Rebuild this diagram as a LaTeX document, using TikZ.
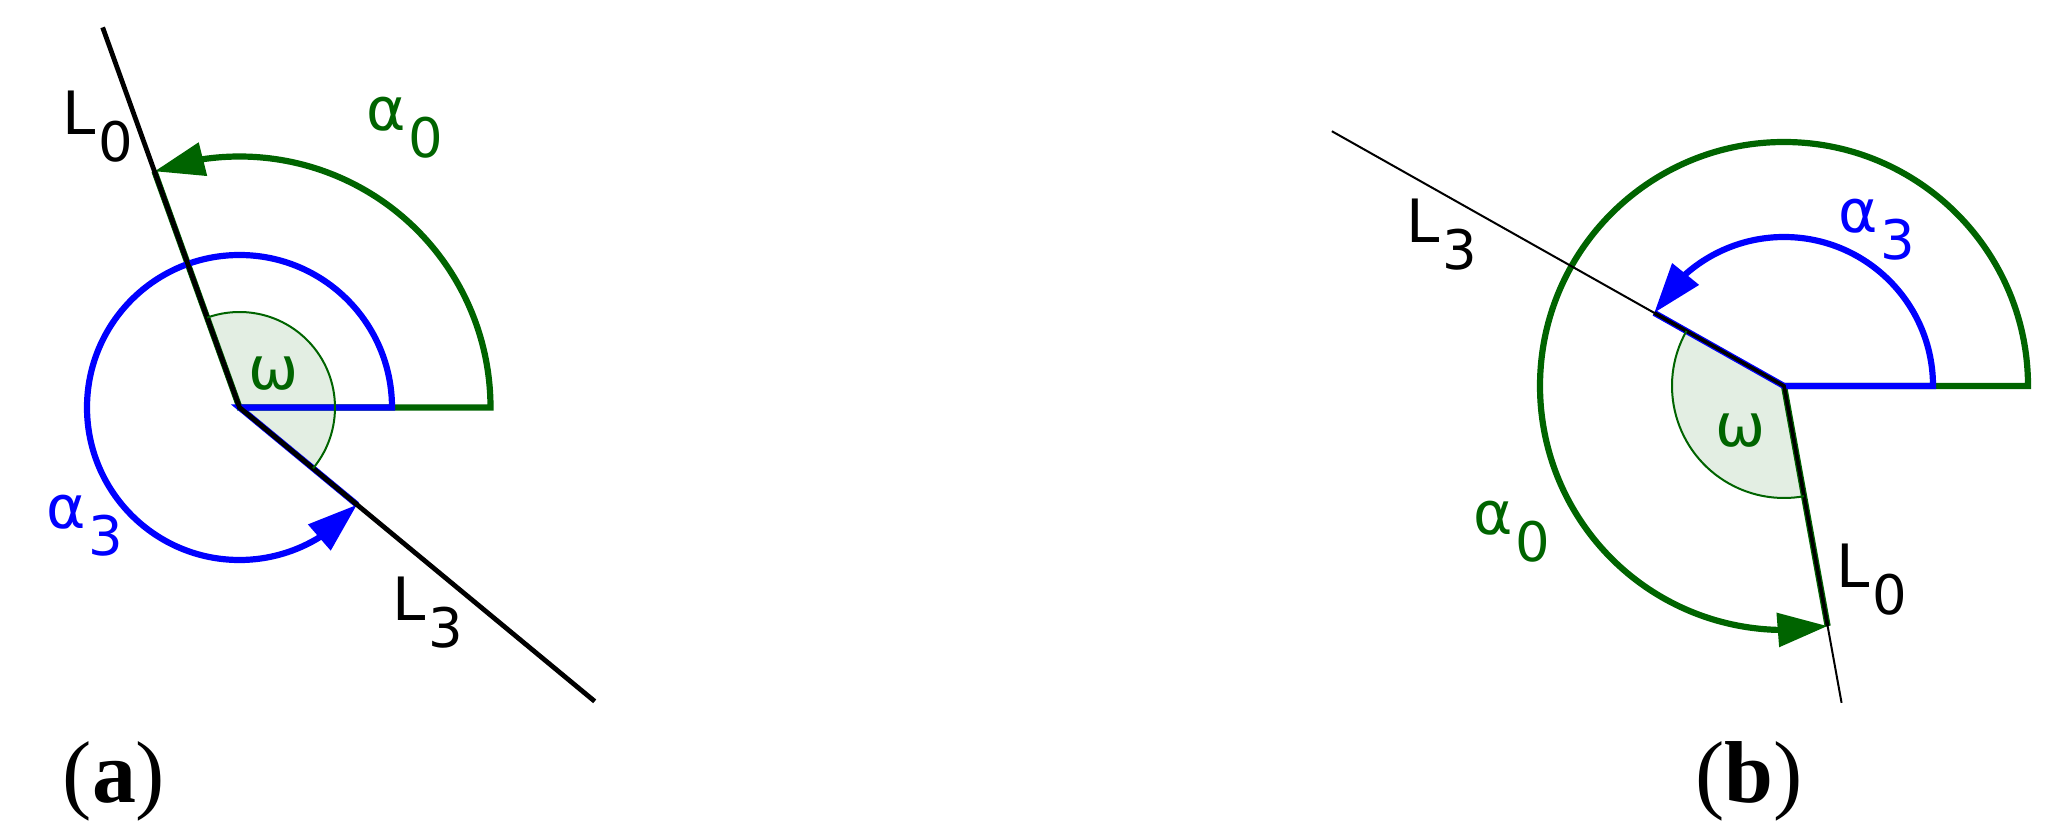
\documentclass[tikz,border=0pt]{standalone}
\usepackage{fontspec}
\setmainfont{DejaVu Sans}
\newfontfamily\tagfont{Liberation Serif}
\usetikzlibrary{arrows.meta,bending,calc}
\definecolor{ogreen}{RGB}{0,100,0}
\definecolor{oblue}{RGB}{0,0,255}
\newcommand\lsub[2]{#1\kern0.05em\raisebox{-0.45em}{\fontsize{15.5}{18}\selectfont#2}}

\begin{document}
\begin{tikzpicture}
[x=0.1mm, y=0.1mm,
 every node/.style={inner sep=0pt, font=\fontsize{17}{20}\selectfont},
 edge/.style={line width=0.48mm, draw=black},
 thinedge/.style={line width=0.2mm, draw=black},
 midedge/.style={line width=0.36mm, draw=black},
 angarc/.style={line width=0.62mm},
 tip/.style={-{Triangle[length=5mm,width=3.3mm]}},
 sector/.style={fill=ogreen!11},
 sectorarc/.style={line width=0.2mm, draw=ogreen},
 tag/.style={font=\tagfont\fontsize{25}{30}\selectfont}]
\useasboundingbox (0,0) rectangle (2065,839);

\coordinate (Ca) at (239.5,431.5);
\coordinate (La0) at ($(Ca)+(109.8:404)$);
\coordinate (La3) at ($(Ca)+(-39.6:461)$);
\fill [sector] (Ca) -- ++(-39.6:95.5) arc [start angle=-39.6, end angle=109.8, radius=95.5] -- cycle;
\draw [angarc, draw=ogreen, tip] ($(Ca)+(109.8:251)$) -- (Ca) -- ++(0:251) arc [start angle=0, end angle=109.8, radius=251];
\draw [angarc, draw=oblue, tip] ($(Ca)+(-39.6:152.5)$) -- (Ca) -- ++(0:152.5) arc [start angle=0, end angle=320.4, radius=152.5];
\draw [edge] (La0) -- (Ca) -- (La3);
\draw [sectorarc] ($(Ca)+(-39.6:95.5)$) arc [start angle=-39.6, end angle=109.8, radius=95.5];
\node (la0) at (98,712) {\lsub{L}{0}};
\node (la3) at (428,226) {\lsub{L}{3}};
\node [text=ogreen] (aa0) at (405,711) {\lsub{α}{0}};
\node [text=oblue] (aa3) at (85,313) {\lsub{α}{3}};
\node [text=ogreen] (wa) at (274,465) {ω};
\node [tag] (taga) at (114,58) {(\textbf{a})};

\coordinate (Cb) at (1784,453);
\coordinate (Lb3) at ($(Cb)+(150.6:519)$);
\coordinate (Lb0) at ($(Cb)+(-79.7:322)$);
\fill [sector] (Cb) -- ++(150.6:112) arc [start angle=150.6, end angle=280.3, radius=112] -- cycle;
\draw [angarc, draw=ogreen, tip] ($(Cb)+(-79.7:244)$) -- (Cb) -- ++(0:244) arc [start angle=0, end angle=280.3, radius=244];
\draw [angarc, draw=oblue, tip] ($(Cb)+(150.6:149)$) -- (Cb) -- ++(0:149) arc [start angle=0, end angle=150.6, radius=149];
\draw [thinedge] (Lb3) -- (Cb) -- (Lb0);
\draw [midedge] ($(Cb)+(150.6:149)$) -- (Cb) -- ($(Cb)+(-79.7:244)$);
\draw [sectorarc] ($(Cb)+(150.6:112)$) arc [start angle=150.6, end angle=280.3, radius=112];
\node (lb3) at (1442,604) {\lsub{L}{3}};
\node (lb0) at (1872,259) {\lsub{L}{0}};
\node [text=oblue] (ab3) at (1877,609) {\lsub{α}{3}};
\node [text=ogreen] (ab0) at (1512,307) {\lsub{α}{0}};
\node [text=ogreen] (wb) at (1740,408) {ω};
\node [tag] (tagb) at (1749,58) {(\textbf{b})};
\end{tikzpicture}
\end{document}
